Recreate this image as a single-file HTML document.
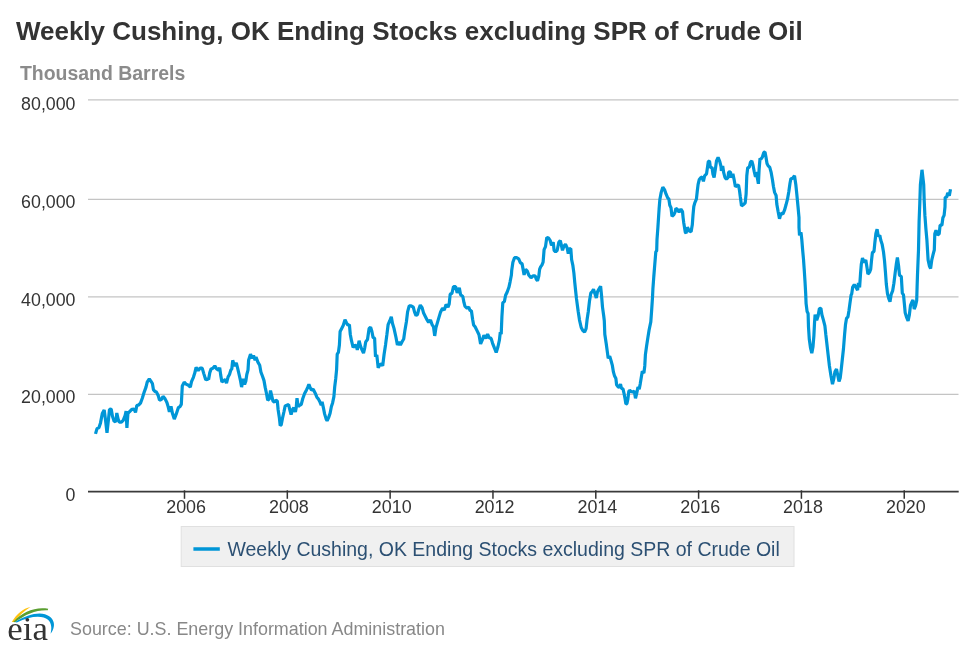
<!DOCTYPE html>
<html><head><meta charset="utf-8"><title>Weekly Cushing, OK Ending Stocks excluding SPR of Crude Oil</title>
<style>
html,body{margin:0;padding:0;background:#fff;}
svg{display:block;will-change:transform;font-family:"Liberation Sans",sans-serif;}
</style></head><body>
<svg width="977" height="650" viewBox="0 0 977 650">
<rect width="977" height="650" fill="#fff"/>
<text x="15.9" y="40" font-size="26" font-weight="bold" fill="#333">Weekly Cushing, OK Ending Stocks excluding SPR of Crude Oil</text>
<text x="20.0" y="80" font-size="19.45" font-weight="bold" fill="#8b8b8b">Thousand Barrels</text>
<g><line x1="88" x2="958.5" y1="99.95" y2="99.95" stroke="#c4c4c4" stroke-width="1.3"/><line x1="88" x2="958.5" y1="199.4" y2="199.4" stroke="#c4c4c4" stroke-width="1.3"/><line x1="88" x2="958.5" y1="296.8" y2="296.8" stroke="#c4c4c4" stroke-width="1.3"/><line x1="88" x2="958.5" y1="394.4" y2="394.4" stroke="#c4c4c4" stroke-width="1.3"/></g>
<g font-size="17.8" fill="#333"><text x="75.5" y="110" text-anchor="end">80,000</text><text x="75.5" y="208" text-anchor="end">60,000</text><text x="75.5" y="306" text-anchor="end">40,000</text><text x="75.5" y="403" text-anchor="end">20,000</text><text x="75.5" y="501" text-anchor="end">0</text></g>
<path d="M95.5 433.9 L97.1 428.4 L98.9 427.8 L100.5 422.9 L102.3 413.6 L104.2 409.9 L105.4 419.1 L107.0 432.7 L108.5 419.1 L109.5 409.3 L111.2 409.1 L112.4 416.1 L114.2 421.6 L116.1 421.0 L116.8 413.0 L118.1 419.1 L119.3 422.2 L121.4 422.2 L123.2 420.4 L125.1 415.5 L126.1 411.1 L126.9 427.8 L127.9 413.6 L129.4 411.8 L131.8 409.3 L134.1 409.1 L135.5 412.4 L136.8 405.6 L138.6 405.0 L140.5 403.1 L142.3 398.2 L144.2 392.1 L146.0 387.1 L147.2 382.2 L149.3 378.8 L151.2 381.6 L152.4 383.5 L153.4 389.6 L155.0 391.5 L156.5 392.1 L158.3 395.8 L159.5 400.1 L161.4 399.5 L163.0 396.4 L165.1 398.9 L166.9 402.5 L168.2 406.9 L169.4 411.8 L171.0 406.2 L172.5 413.6 L174.3 419.1 L176.2 414.2 L178.4 407.5 L179.8 406.9 L181.3 404.4 L182.3 385.9 L184.2 382.2 L186.0 384.1 L188.5 385.3 L190.3 387.1 L191.5 381.6 L193.4 377.3 L194.6 373.6 L196.1 367.5 L198.3 370.5 L200.2 368.1 L202.2 368.1 L203.8 373.6 L205.7 379.8 L208.2 379.1 L208.6 379.4 L209.8 372.6 L211.1 368.9 L212.9 368.3 L214.8 365.9 L216.6 368.9 L218.5 370.1 L219.7 367.7 L220.7 375.1 L221.9 381.9 L224.0 380.6 L225.2 379.4 L226.5 383.1 L228.1 376.9 L229.5 374.5 L230.8 370.1 L231.8 368.9 L232.7 360.3 L234.5 365.9 L236.3 362.8 L237.5 367.7 L239.1 374.5 L240.6 381.2 L241.6 387.1 L243.1 378.8 L244.6 384.3 L245.8 381.2 L246.8 374.5 L248.0 370.1 L248.6 360.3 L250.5 354.1 L252.3 358.5 L253.5 355.4 L255.1 360.3 L256.0 357.2 L257.9 362.1 L259.7 365.2 L260.9 372.0 L262.5 376.3 L264.0 380.6 L265.2 387.4 L266.5 393.5 L267.7 400.3 L269.5 398.5 L270.5 390.5 L271.8 396.0 L272.9 400.9 L274.5 402.1 L275.7 400.3 L277.3 400.9 L278.1 409.5 L279.4 418.1 L280.2 425.5 L281.2 424.9 L282.5 418.1 L283.9 412.0 L285.2 405.9 L286.8 405.2 L288.6 404.6 L289.9 410.1 L291.1 414.5 L292.6 409.5 L293.8 407.7 L295.4 412.0 L296.2 407.7 L297.0 398.2 L298.2 406.5 L299.7 405.2 L301.2 404.6 L302.8 398.5 L304.6 393.5 L306.5 389.9 L307.7 387.4 L308.9 384.3 L310.1 387.4 L311.4 389.9 L313.2 389.2 L315.1 392.9 L316.9 397.2 L318.4 399.1 L320.0 402.1 L320.3 402.9 L321.2 405.1 L322.1 401.9 L323.4 407.8 L324.6 413.9 L326.1 418.9 L327.1 420.7 L328.6 417.6 L330.1 413.3 L331.4 406.5 L332.6 402.9 L333.9 396.7 L334.7 386.9 L335.7 378.9 L336.6 369.6 L337.2 354.2 L338.4 352.4 L339.4 345.0 L340.1 331.5 L341.7 328.4 L343.3 325.3 L345.0 319.8 L346.6 322.9 L347.9 325.3 L349.4 324.7 L350.3 334.5 L351.5 340.7 L353.1 347.5 L354.6 345.6 L356.1 345.4 L357.3 349.9 L359.1 340.7 L360.5 346.2 L362.0 349.9 L363.5 353.0 L364.7 348.1 L365.7 341.9 L367.5 339.5 L369.1 328.4 L370.6 327.1 L371.9 331.5 L373.1 337.6 L374.6 338.2 L375.5 356.7 L376.8 354.9 L378.2 367.8 L379.9 364.7 L381.4 364.1 L382.7 365.9 L384.1 354.2 L385.6 344.4 L386.9 334.5 L388.1 324.7 L389.7 321.0 L391.3 316.7 L392.5 323.5 L394.0 328.4 L395.9 337.0 L397.4 345.0 L398.9 341.9 L400.4 345.0 L402.2 341.5 L403.7 339.0 L404.9 330.4 L406.4 321.8 L407.6 311.9 L409.2 305.8 L411.1 305.8 L413.3 307.2 L414.5 311.9 L416.0 315.6 L417.5 314.4 L418.7 309.5 L420.3 305.1 L422.1 307.6 L423.6 313.1 L425.2 316.2 L427.1 319.9 L428.6 322.4 L430.5 319.9 L432.2 324.9 L433.5 326.7 L434.7 335.9 L435.9 327.9 L437.5 322.4 L439.1 316.9 L440.6 311.9 L442.5 308.2 L444.3 310.1 L446.1 304.5 L448.0 307.2 L449.2 303.9 L450.2 294.1 L451.9 293.5 L453.5 286.7 L455.6 286.7 L457.2 292.9 L459.3 287.9 L460.6 294.7 L462.8 296.5 L464.0 302.7 L465.0 306.4 L467.1 308.2 L468.7 307.2 L470.1 310.7 L471.4 310.7 L472.6 319.3 L473.6 324.9 L475.1 326.7 L476.9 330.4 L479.0 334.7 L480.6 343.9 L482.2 340.2 L483.9 335.3 L485.9 338.4 L487.6 334.1 L489.2 337.8 L491.1 338.4 L492.6 343.3 L494.5 348.2 L496.2 352.5 L497.9 347.0 L499.4 340.2 L500.3 332.2 L501.2 334.1 L501.9 316.9 L502.8 302.7 L504.4 301.5 L505.6 295.3 L507.1 292.2 L508.9 287.3 L510.1 281.8 L511.4 275.0 L511.7 270.6 L512.9 262.2 L514.5 257.7 L516.6 257.7 L518.7 258.9 L520.3 262.6 L522.1 263.9 L523.1 269.4 L524.1 274.9 L525.6 269.4 L527.3 271.2 L528.9 275.3 L531.0 277.8 L533.0 275.8 L535.1 275.8 L536.3 279.2 L537.5 280.7 L538.8 276.1 L539.6 269.4 L540.6 266.9 L541.9 265.1 L543.1 262.2 L544.1 249.7 L545.5 246.6 L546.8 237.4 L548.6 238.0 L550.2 240.5 L551.5 245.4 L553.2 242.3 L554.1 250.3 L555.6 251.9 L557.2 250.3 L558.8 242.3 L560.3 240.5 L561.3 244.8 L562.5 250.3 L564.0 246.0 L565.5 244.2 L567.1 247.8 L568.3 253.6 L569.2 249.1 L570.8 248.5 L571.6 259.5 L572.9 265.7 L573.9 273.1 L574.8 282.9 L575.7 291.5 L576.5 298.9 L578.2 311.5 L579.5 320.1 L581.2 327.5 L582.8 330.5 L584.6 332.0 L586.1 328.7 L587.1 319.5 L588.3 311.5 L589.5 301.0 L590.8 293.0 L592.2 291.8 L593.5 289.3 L594.7 293.0 L596.3 297.9 L597.5 291.8 L599.1 288.7 L600.6 286.2 L601.6 296.1 L602.5 307.1 L603.7 315.8 L604.3 320.7 L604.8 334.2 L606.2 343.5 L607.2 350.9 L608.2 358.3 L609.7 356.1 L610.9 360.1 L612.4 365.7 L613.4 371.9 L614.6 376.1 L615.9 378.6 L616.6 384.8 L618.1 386.9 L619.3 387.2 L620.5 384.1 L621.5 388.5 L623.0 388.8 L623.9 392.8 L625.1 398.9 L625.9 403.9 L626.9 403.6 L627.9 398.9 L628.8 391.5 L629.6 390.3 L631.2 391.5 L632.8 392.1 L634.3 390.9 L635.5 398.3 L636.8 392.8 L638.0 387.2 L639.2 389.1 L640.2 384.1 L641.1 378.6 L642.3 371.2 L643.9 373.1 L644.8 365.7 L645.4 354.6 L646.6 346.0 L647.9 337.4 L649.1 330.0 L650.8 321.9 L651.7 309.6 L652.5 297.3 L652.9 288.9 L653.8 276.5 L654.8 264.2 L655.8 251.9 L656.7 250.7 L657.0 239.6 L657.9 227.3 L658.7 215.0 L659.1 209.0 L659.9 199.2 L661.2 192.4 L662.8 187.1 L664.6 189.9 L666.1 194.2 L667.7 197.9 L668.9 199.2 L669.8 205.3 L671.0 207.8 L672.0 216.4 L673.9 214.5 L675.1 212.1 L675.9 208.4 L677.5 209.6 L679.1 212.1 L680.9 209.0 L682.5 211.5 L683.1 217.6 L683.7 222.4 L685.3 232.2 L686.1 233.2 L687.4 227.3 L689.2 231.0 L691.1 231.6 L692.3 224.8 L693.0 215.2 L693.8 206.5 L694.8 202.8 L696.4 199.2 L697.2 191.8 L698.1 184.4 L699.3 179.5 L700.9 177.6 L702.1 177.0 L703.4 181.3 L704.6 175.8 L706.5 173.9 L707.5 167.2 L708.3 161.6 L709.5 161.0 L710.4 167.8 L712.0 167.2 L712.9 173.9 L714.1 177.6 L715.3 169.6 L716.5 161.0 L718.1 157.3 L719.8 161.6 L721.0 166.5 L721.4 170.8 L722.7 165.9 L723.7 172.7 L724.9 177.2 L726.4 179.2 L728.0 177.6 L728.6 172.1 L730.5 171.8 L731.1 177.6 L732.9 173.9 L734.1 179.5 L735.4 186.8 L737.0 185.6 L738.5 185.0 L739.5 190.5 L740.3 196.7 L741.5 205.9 L743.4 204.7 L745.2 202.8 L746.1 194.2 L746.8 175.8 L747.7 167.8 L749.3 167.2 L750.5 162.2 L751.8 161.0 L753.0 165.3 L754.2 171.5 L755.5 177.0 L756.3 172.1 L757.5 178.8 L758.4 183.8 L759.1 169.6 L760.0 158.5 L760.8 159.2 L762.3 157.3 L763.8 152.4 L765.0 152.1 L766.0 157.3 L767.0 163.5 L768.2 165.9 L769.7 167.2 L771.2 172.7 L772.4 179.5 L773.4 186.2 L774.6 192.4 L776.1 195.5 L776.8 204.1 L778.1 211.5 L779.5 218.8 L781.0 213.3 L783.0 213.9 L784.5 210.2 L785.9 205.3 L787.5 199.2 L788.8 191.8 L790.0 183.2 L790.9 178.5 L792.5 178.5 L794.5 175.8 L795.8 184.4 L796.8 194.2 L798.0 206.5 L799.0 217.6 L799.0 227.4 L799.5 235.4 L801.0 232.3 L801.8 239.7 L802.6 249.5 L803.5 259.4 L804.2 269.2 L805.0 281.5 L805.7 293.9 L806.1 303.6 L807.1 311.6 L808.1 313.5 L808.5 327.0 L809.3 339.3 L810.5 347.9 L811.8 353.1 L813.0 346.7 L813.9 335.6 L814.5 323.3 L815.1 314.7 L816.7 320.2 L818.1 315.9 L819.4 308.5 L820.9 308.3 L821.9 314.7 L823.3 319.6 L824.9 325.8 L825.8 334.4 L826.7 342.3 L828.1 354.6 L829.4 365.7 L830.9 375.5 L832.5 384.1 L833.7 379.2 L834.9 371.9 L836.5 369.1 L837.8 375.5 L839.0 381.4 L840.2 378.0 L841.1 370.6 L842.3 359.5 L843.5 348.5 L844.6 334.4 L845.5 324.5 L846.5 318.4 L847.9 316.9 L848.9 311.0 L849.9 303.6 L851.1 295.0 L851.7 293.9 L852.7 287.1 L854.3 284.6 L855.9 287.1 L857.6 290.1 L858.4 282.8 L859.6 287.4 L860.5 274.1 L861.3 264.3 L862.5 258.1 L864.1 262.5 L865.8 260.0 L867.0 267.4 L867.9 274.1 L869.5 272.3 L870.7 269.2 L871.5 260.6 L872.4 252.6 L874.0 251.4 L874.9 242.2 L875.9 233.5 L877.1 229.2 L878.3 236.6 L879.8 235.4 L880.8 240.3 L882.2 244.6 L883.5 252.0 L884.5 260.6 L885.5 272.9 L886.3 284.0 L887.5 293.9 L888.8 298.6 L890.0 301.7 L891.2 294.3 L892.7 290.6 L893.9 283.2 L895.1 273.4 L896.4 263.5 L897.4 257.4 L898.6 266.0 L899.5 275.2 L901.3 276.5 L902.3 293.1 L903.5 294.9 L904.4 304.1 L905.2 312.8 L906.5 317.1 L908.1 320.8 L909.3 315.2 L910.5 305.4 L911.8 302.3 L913.0 299.9 L914.2 309.1 L915.5 306.0 L916.7 300.5 L917.1 286.9 L917.5 274.6 L918.0 262.3 L918.5 250.0 L919.1 221.5 L919.8 203.1 L920.4 184.6 L922.0 169.8 L923.7 184.6 L924.2 200.6 L924.9 215.4 L925.9 228.9 L926.9 240.0 L928.1 259.9 L929.4 266.0 L930.6 268.5 L931.8 259.9 L933.3 253.7 L934.3 250.0 L934.8 233.8 L936.0 230.2 L937.6 235.1 L939.2 233.8 L940.1 225.2 L941.9 225.2 L942.9 217.8 L944.1 215.4 L945.0 206.8 L945.2 197.4 L946.7 197.2 L947.7 192.8 L949.3 195.6 L950.5 189.3" fill="none" stroke="#0096d7" stroke-width="3.2" stroke-linejoin="bevel" stroke-linecap="butt"/>
<line x1="88" x2="958.7" y1="491.6" y2="491.6" stroke="#3a3a3a" stroke-width="1.6"/>
<g><line x1="184.50" x2="184.50" y1="490.3" y2="498.8" stroke="#333" stroke-width="1.5"/><line x1="287.32" x2="287.32" y1="490.3" y2="498.8" stroke="#333" stroke-width="1.5"/><line x1="390.14" x2="390.14" y1="490.3" y2="498.8" stroke="#333" stroke-width="1.5"/><line x1="492.96" x2="492.96" y1="490.3" y2="498.8" stroke="#333" stroke-width="1.5"/><line x1="595.79" x2="595.79" y1="490.3" y2="498.8" stroke="#333" stroke-width="1.5"/><line x1="698.61" x2="698.61" y1="490.3" y2="498.8" stroke="#333" stroke-width="1.5"/><line x1="801.43" x2="801.43" y1="490.3" y2="498.8" stroke="#333" stroke-width="1.5"/><line x1="904.25" x2="904.25" y1="490.3" y2="498.8" stroke="#333" stroke-width="1.5"/></g>
<g font-size="17.9" fill="#333"><text x="186.10" y="513" text-anchor="middle">2006</text><text x="288.92" y="513" text-anchor="middle">2008</text><text x="391.74" y="513" text-anchor="middle">2010</text><text x="494.56" y="513" text-anchor="middle">2012</text><text x="597.39" y="513" text-anchor="middle">2014</text><text x="700.21" y="513" text-anchor="middle">2016</text><text x="803.03" y="513" text-anchor="middle">2018</text><text x="905.85" y="513" text-anchor="middle">2020</text></g>
<rect x="181.2" y="526.5" width="612.8" height="40" fill="#f0f0f0" stroke="#e0e0e0" stroke-width="1"/>
<line x1="193.4" x2="219.8" y1="549.0" y2="549.0" stroke="#0096d7" stroke-width="3.5"/>
<text x="227.4" y="556" font-size="19.5" fill="#2c5073">Weekly Cushing, OK Ending Stocks excluding SPR of Crude Oil</text>
<g id="logo">
<path d="M11.8 622 C17 613.5 23 608.5 30.5 607 C24.5 610.5 19 616 14 622 Z" fill="#ffc20e"/>
<path d="M13.2 622 C23 611.5 35 606.8 48.2 608.8 L47.8 610.3 C36 609.8 25.5 614.3 15.2 622.2 Z" fill="#5b9f31"/>
<path d="M15.2 621.9 C26 615.3 37 612 45 614.2 C51.5 616.3 54.6 621 53.9 626 C53.5 629 52.3 631.5 50.6 633.7 C52 628 51.6 623.3 48 619.8 C42.5 615 30 616 16.8 622.4 Z" fill="#0096d7"/>
<text x="7.3" y="640" font-family="'Liberation Serif',serif" font-size="34" fill="#333" textLength="40.6" lengthAdjust="spacingAndGlyphs">eia</text>
</g>
<text x="70" y="635" font-size="17.9" fill="#888">Source: U.S. Energy Information Administration</text>
</svg>
</body></html>
